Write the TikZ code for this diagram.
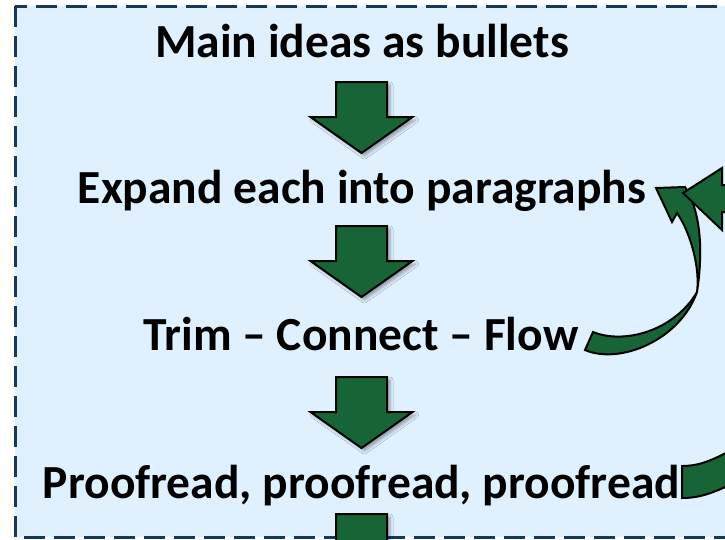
\documentclass[tikz,border=0pt]{standalone}
\usepackage{fontspec}
\setmainfont{Carlito}
\usetikzlibrary{shadows.blur}
\definecolor{boxfill}{RGB}{223,240,255}
\definecolor{boxline}{RGB}{24,56,88}
\definecolor{arrowgreen}{RGB}{23,101,54}
\begin{document}
\begin{tikzpicture}[x=1pt,y=-1pt,
  every node/.style={font=\bfseries\fontsize{47.5}{56}\selectfont,inner sep=0pt,anchor=base},
  greenblock/.style={fill=arrowgreen,draw=black,line width=2pt,line join=miter},
  downarrow/.pic={
    \filldraw[greenblock,blur shadow={shadow xshift=3pt,shadow yshift=-3pt,shadow blur radius=3pt,shadow opacity=35}]
      (-25.5,0) -- (25.5,0) -- (25.5,35) -- (51,35) -- (0,71) -- (-51,35) -- (-25.5,35) -- cycle;
  }]
\useasboundingbox (0,0) rectangle (725,539);
\clip (0,0) rectangle (725,539);
% dashed frame
\draw[fill=boxfill,draw=boxline,line width=3pt,dash pattern=on 21pt off 9pt] (15,6) rectangle (780,537);
% the four steps
\node (main) at (362,57) {Main ideas as bullets};
\node (expand) at (362,203) {Expand each into paragraphs};
\node (trim) at (361,350) {Trim -- Connect -- Flow};
\node (proof) at (361.5,498) {Proofread, proofread, proofread};
\pic at (361.5,82) {downarrow};
\pic at (361.5,226) {downarrow};
\pic at (361.5,377) {downarrow};
\pic at (361.5,514) {downarrow};
% loop back from Flow to paragraphs
\filldraw[greenblock] (593,332) .. controls (625,345) and (675,330) .. (697,292)
  .. controls (700,270) and (692,235) .. (677,213) -- (672,222) -- (656,188) -- (685,187)
  .. controls (697,205) and (705,240) .. (697,292)
  .. controls (680,340) and (620,365) .. (585,350) -- cycle;
% arrow coming in from the right
\filldraw[greenblock] (683,193) -- (722,168) -- (722,185) -- (790,185) -- (790,212) -- (722,212) -- (722,230) -- cycle;
% band leaving proofread
\filldraw[greenblock] (682,466) .. controls (700,466) and (715,460) .. (745,442)
  -- (760,470) .. controls (720,490) and (705,498) .. (682,498) -- cycle;
\end{tikzpicture}
\end{document}
